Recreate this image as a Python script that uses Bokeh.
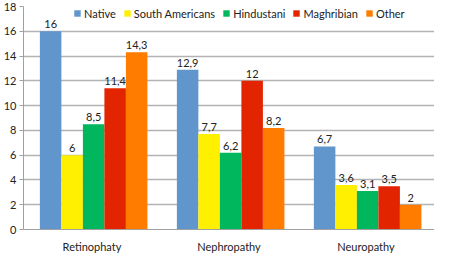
from bokeh.plotting import figure
from bokeh.models import FactorRange, Range1d, ColumnDataSource, Legend, LegendItem, FixedTicker
from bokeh.transform import dodge
from bokeh.core.properties import value
from bokeh.embed import file_html
from bokeh.resources import INLINE

categories = ["Retinophaty", "Nephropathy", "Neuropathy"]
series_names = ["Native", "South Americans", "Hindustani", "Maghribian", "Other"]
native = [16, 12.9, 6.7]
south_americans = [6, 7.7, 3.6]
hindustani = [8.5, 6.2, 3.1]
maghribian = [11.4, 12, 3.5]
other = [14.3, 8.2, 2]
y_ticks = [0, 2, 4, 6, 8, 10, 12, 14, 16, 18]

series_values = [native, south_americans, hindustani, maghribian, other]
colors = ["#6096CB", "#FFEF00", "#00B75E", "#E32400", "#FF7C00"]

FONT = "Lato"

def fmt(v):
    if float(v).is_integer():
        return str(int(v))
    return str(v).replace(".", ",")

p = figure(x_range=FactorRange(*categories), y_range=Range1d(0, 18),
           width=434, height=255, output_backend="svg", toolbar_location=None,
           min_border_left=20, min_border_right=0, min_border_top=6, min_border_bottom=17)

bw = 0.157
offsets = [-2 * bw, -bw, 0, bw, 2 * bw]
items = []
for name, vals, col, off in zip(series_names, series_values, colors, offsets):
    src = ColumnDataSource(dict(cat=categories, val=vals, lab=[fmt(v) for v in vals]))
    r = p.vbar(x=dodge("cat", off + 0.012, range=p.x_range), top="val", width=bw, bottom=0,
               source=src, fill_color=col, line_color=None)
    p.text(x=dodge("cat", off + 0.012, range=p.x_range), y="val", text="lab", source=src,
           text_align="center", text_baseline="bottom", y_offset=-3,
           text_font=value(FONT), text_font_size="11px", text_color="#222222")
    items.append(LegendItem(label=name, renderers=[r]))

legend = Legend(items=items, orientation="horizontal", location=(50, 209),
                glyph_width=8, glyph_height=8, label_standoff=3, spacing=7,
                padding=0, margin=0, background_fill_alpha=0, border_line_color=None,
                label_text_font=FONT, label_text_font_size="11px", label_text_color="#222222",
                label_height=14)
p.add_layout(legend, "center")

p.outline_line_color = None
p.xgrid.grid_line_color = None
p.ygrid.grid_line_color = "#B3B3B3"
p.ygrid.grid_line_width = 1.3
p.yaxis.ticker = FixedTicker(ticks=y_ticks)
p.yaxis.axis_line_color = "#A0A0A0"
p.yaxis.major_tick_line_color = "#A0A0A0"
p.yaxis.major_tick_out = 4
p.yaxis.major_tick_in = 0
p.yaxis.minor_tick_line_color = None
p.yaxis.major_label_standoff = 3
p.xaxis.axis_line_color = "#A0A0A0"
p.xaxis.major_tick_line_color = None
p.xaxis.major_label_standoff = 4
for ax in (p.xaxis, p.yaxis):
    ax.major_label_text_font = FONT
    ax.major_label_text_font_size = "11px"
    ax.major_label_text_color = "#222222"

open("out.html", "w").write(file_html(p, INLINE))
